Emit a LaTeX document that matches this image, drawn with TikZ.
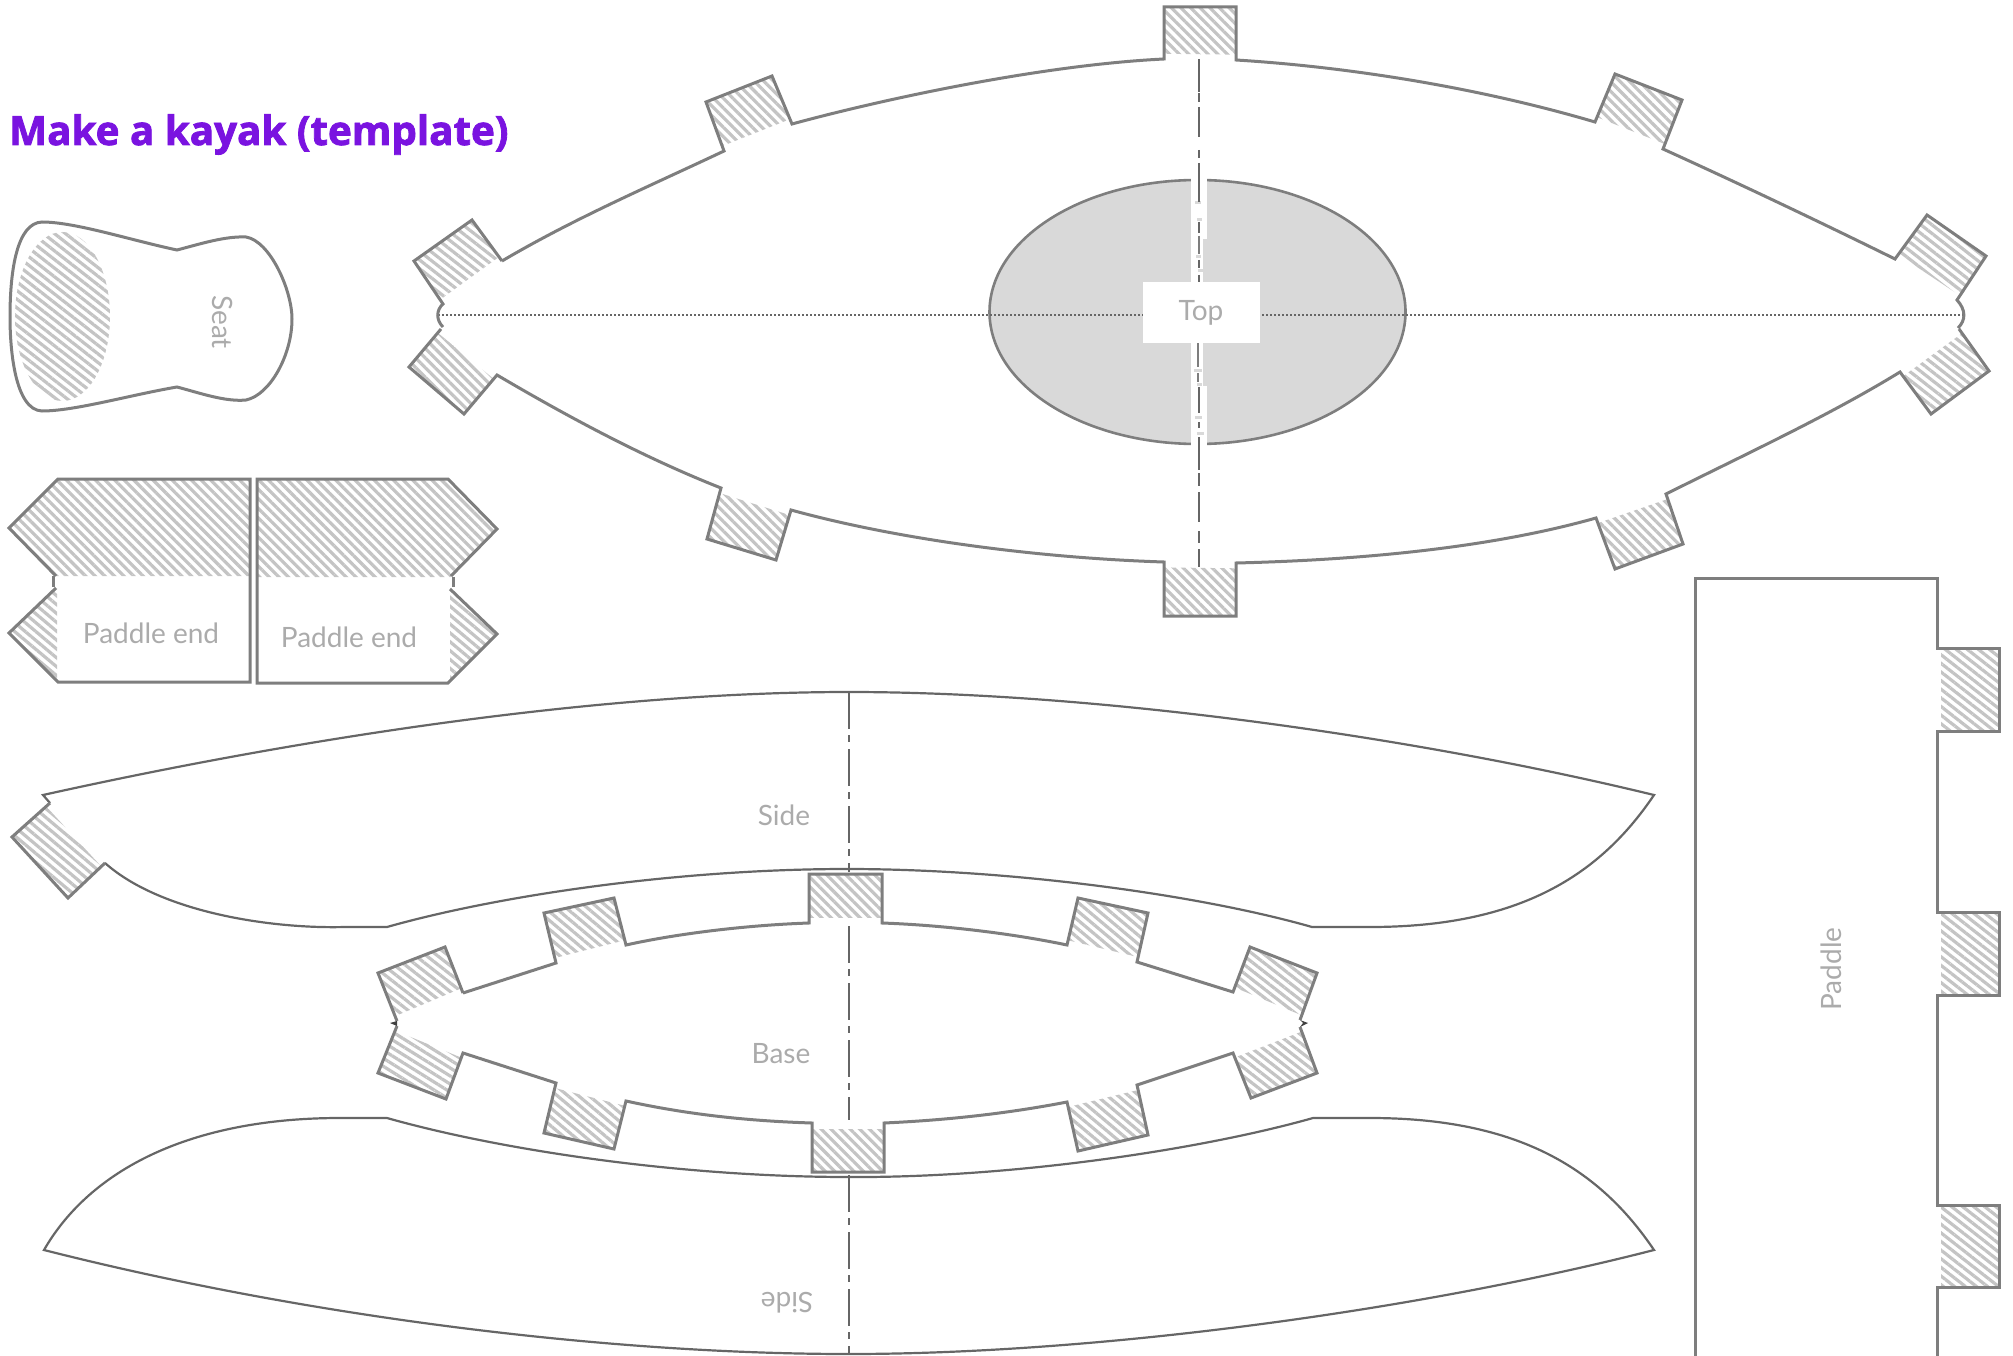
\documentclass[tikz,border=0pt]{standalone}
\usepackage{fontspec}
\usetikzlibrary{patterns.meta,calc}
\newfontfamily\titlefont[BoldFeatures={FakeBold=2}]{Open Sans}
\newfontfamily\labelfont{Lato}
\definecolor{edge}{HTML}{7E7E7E}
\definecolor{thinedge}{HTML}{666666}
\definecolor{hatchc}{HTML}{C4C4C4}
\definecolor{lab}{HTML}{ABABAB}
\definecolor{purp}{HTML}{7A13E0}
\definecolor{hole}{HTML}{D9D9D9}
\tikzset{
  outline/.style={draw=edge,line width=3pt,line join=miter},
  thinline/.style={draw=thinedge,line width=2.2pt},
  centre/.style={draw=thinedge,line width=2.5pt,dash pattern=on 37pt off 6pt on 7pt off 7pt},
  lbl/.style={text=lab,font=\labelfont\fontsize{28}{30}\selectfont,inner sep=0pt},
}
\newcommand{\hatched}[2]{\path[pattern={Lines[angle=#1,distance=6.8pt,line width=3.2pt]},pattern color=hatchc] #2;}
% tab: a = join, b, c = outer corners, d = join, e = angle
\newcommand{\tabh}[5]{\hatched{#5}{($(#1)!.1!(#2)$) -- (#2) -- (#3) -- ($(#4)!.1!(#3)$) -- cycle}}
\begin{document}
\begin{tikzpicture}[x=1pt,y=-1pt]
\useasboundingbox (0,0) rectangle (2013,1356);
% Title
\node[anchor=base west,inner sep=0pt,text=purp,font=\titlefont\bfseries\fontsize{40.3}{46}\selectfont] (title) at (9,145) {Make a kayak (template)};
% Seat
\hatched{-38}{(62.5,316.5) ellipse [x radius=47.5,y radius=84.5]}
\draw[outline] (42,222) .. controls (75,222) and (130,240) .. (177,250)
  .. controls (200,244) and (225,236) .. (246,237)
  .. controls (270,241) and (292,290) .. (292,319)
  .. controls (292,355) and (270,395) .. (246,400)
  .. controls (225,402) and (200,393) .. (177,387)
  .. controls (130,395) and (75,411) .. (42,411)
  .. controls (15,410) and (10,350) .. (10,317)
  .. controls (10,270) and (17,223) .. (42,222) -- cycle;
\node[lbl,rotate=-90] (seat) at (223,322) {Seat};
% Paddle ends
\hatched{-45}{(58,479) -- (250,479) -- (250,576) -- (56,576) -- (9,528) -- cycle}
\hatched{-40}{(57,588) -- (9,633) -- (57,682) -- cycle}
\draw[outline] (56,576) -- (9,528) -- (58,479) -- (250,479) -- (250,682) -- (58,682) -- (9,633) -- (56,588);
\draw[outline] (53,576) -- (53,587);
\node[lbl] (pe1) at (151,633) {Paddle end};
\hatched{-45}{(257,479) -- (448,479) -- (497,529) -- (451,577) -- (257,577) -- cycle}
\hatched{-40}{(450,589) -- (497,634) -- (450,680) -- cycle}
\draw[outline] (451,576) -- (497,529) -- (448,479) -- (257,479) -- (257,683) -- (448,683) -- (497,634) -- (450,589);
\draw[outline] (453,577) -- (453,587);
\node[lbl] (pe2) at (349,637) {Paddle end};
% Top hull: hatch
\tabh{502,261}{472,220}{414,261}{443,304}{-38}
\tabh{497,375}{464,414}{409,367}{441,329}{-45}
\tabh{792,124}{772,76}{706,102}{724,151}{-45}
\tabh{791,510}{776,560}{707,539}{721,488}{-45}
\tabh{1164,59}{1164,7}{1236,7}{1236,60}{-45}
\tabh{1164,562}{1164,616}{1236,616}{1236,563}{-45}
\tabh{1595,122}{1615,74}{1682,100}{1663,149}{-45}
\tabh{1596,518}{1615,569}{1683,544}{1666,494}{-45}
\tabh{1895,259}{1927,215}{1986,256}{1957,300}{-38}
\tabh{1900,372}{1931,414}{1989,371}{1959,329}{-38}
% Top hull: hole
\draw[outline,line width=2.6pt,fill=hole] (1197.5,312) ellipse [x radius=208,y radius=132];
% Top hull: dotted axis
\draw[thinedge,line width=2pt,dash pattern=on 2pt off 2pt] (438,315) -- (1963,315);
% White strip and label box on the hole
\fill[white] (1191,176) rectangle (1207,239);
\fill[white] (1191,239) rectangle (1203,282);
\fill[white] (1191,343) rectangle (1203,386);
\fill[white] (1191,386) rectangle (1207,450);
\foreach \xa/\xb/\yy in {1195/1201/203,1197/1202/220,1196/1201/257,1198/1203/271,1194/1202/370,1197/1202/384,1195/1202/417,1197/1204/433}
  \fill[hole] (\xa,\yy-1.5) rectangle (\xb,\yy+1.5);
% Top hull: centre line
\draw[thinedge,line width=2.5pt] (1199,59) -- (1199,92) (1199,93) -- (1199,102) (1199,107) -- (1199,137) (1199,150) -- (1199,158) (1199,163) -- (1199,202)
  (1199,222) -- (1199,233) (1199,260) -- (1199,268) (1199,275) -- (1199,282)
  (1199,387) -- (1199,413) (1199,422) -- (1199,428) (1199,437) -- (1199,470) (1199,473) -- (1199,486) (1199,492) -- (1199,522) (1199,531) -- (1199,543) (1199,549) -- (1199,567);
\draw[edge,line width=2.5pt] (1199,236) -- (1199,254) (1198,343) -- (1198,367) (1198,373) -- (1198,382);
\fill[white] (1143,282) rectangle (1260,343);
\node[lbl] (top) at (1201,313) {Top};
% Top hull: outline
\draw[outline] (502,261) -- (472,220) -- (414,261) -- (443,304)
  .. controls (436,310) and (436,320) .. (443,327) (441,329) -- (409,367) -- (464,414) -- (497,375)
  .. controls (570,418) and (645,458) .. (721,488) -- (707,539) -- (776,560) -- (791,510)
  .. controls (900,540) and (1040,558) .. (1164,562) -- (1164,616) -- (1236,616) -- (1236,563)
  .. controls (1360,560) and (1490,548) .. (1596,518) -- (1615,569) -- (1683,544) -- (1666,494)
  .. controls (1750,452) and (1830,415) .. (1900,372) -- (1931,414) -- (1989,371) -- (1959,329)
  (1958,328) .. controls (1966,320) and (1966,310) .. (1957,300) -- (1986,256) -- (1927,215) -- (1895,259)
  .. controls (1820,222) and (1740,184) .. (1663,149) -- (1682,100) -- (1615,74) -- (1595,122)
  .. controls (1480,88) and (1350,67) .. (1236,60) -- (1236,7) -- (1164,7) -- (1164,59)
  .. controls (1040,65) and (880,100) .. (792,124) -- (772,76) -- (706,102) -- (724,151)
  .. controls (650,186) and (575,218) .. (502,261);
% Side 1
\tabh{105,863}{68,898}{12,837}{50,803}{-40}
\draw[thinline] (50,803) -- (43,795) .. controls (300,738) and (600,692) .. (849,692)
  .. controls (1100,692) and (1420,738) .. (1654,795)
  .. controls (1600,875) and (1520,927) .. (1370,927) -- (1312,927)
  .. controls (1200,895) and (1012,869) .. (847,869)
  .. controls (680,869) and (500,895) .. (387,927) -- (345,927)
  .. controls (270,929) and (160,912) .. (105,863);
\draw[outline] (105,863) -- (68,898) -- (12,837) -- (50,803);
\draw[centre] (849,692) -- (849,872);
\node[lbl] (side1) at (784,815) {Side};
% Base
\tabh{463,993}{445,947}{378,973}{397,1021}{-38}
\tabh{463,1053}{446,1099}{378,1073}{397,1026}{-32}
\tabh{626,945}{614,898}{544,913}{556,963}{-40}
\tabh{626,1101}{614,1149}{544,1133}{556,1083}{-40}
\hatched{-45}{(809,874) -- (882,874) -- (882,917) -- (809,917) -- cycle}
\hatched{-45}{(812,1129) -- (884,1129) -- (884,1172) -- (812,1172) -- cycle}
\tabh{1067,945}{1078,898}{1148,913}{1137,962}{-40}
\tabh{1067,1102}{1078,1151}{1148,1135}{1137,1085}{-40}
\tabh{1233,992}{1250,947}{1317,973}{1300,1020}{-38}
\tabh{1233,1053}{1251,1098}{1317,1073}{1300,1027}{-38}
\draw[centre] (849,926) -- (849,1120);
\draw[outline] (463,993) -- (445,947) -- (378,973) -- (397,1021);
\draw[outline] (397,1026) -- (378,1073) -- (446,1099) -- (463,1053) -- (556,1083) -- (544,1133) -- (614,1149) -- (626,1101)
  .. controls (690,1115) and (750,1121) .. (812,1123) -- (812,1172) -- (884,1172) -- (884,1123)
  .. controls (950,1120) and (1010,1113) .. (1067,1102) -- (1078,1151) -- (1148,1135) -- (1137,1085) -- (1233,1053) -- (1251,1098) -- (1317,1073) -- (1300,1027);
\draw[outline] (1300,1020) -- (1317,973) -- (1250,947) -- (1233,992) -- (1137,962) -- (1148,913) -- (1078,898) -- (1067,945)
  .. controls (1010,933) and (940,925) .. (882,923) -- (882,874) -- (809,874) -- (809,923)
  .. controls (750,925) and (680,933) .. (626,945) -- (614,898) -- (544,913) -- (556,963) -- (463,993);
\fill[black!75] (390,1023) -- (397,1021) -- (397,1026) -- cycle;
\fill[black!75] (1308,1023) -- (1300,1020) -- (1303,1023) -- (1300,1027) -- cycle;
\node[lbl] (base) at (781,1054) {Base};
% Side 2
\draw[thinline] (44,1250) .. controls (90,1170) and (190,1118) .. (340,1118) -- (387,1118)
  .. controls (500,1150) and (680,1177) .. (849,1177)
  .. controls (1010,1178) and (1200,1150) .. (1313,1118) -- (1370,1118)
  .. controls (1520,1118) and (1600,1170) .. (1654,1250)
  .. controls (1420,1310) and (1100,1354) .. (849,1354)
  .. controls (600,1354) and (300,1315) .. (44,1250) -- cycle;
\draw[centre] (849,1175) -- (849,1355);
\node[lbl,rotate=180] (side2) at (787,1303) {Side};
% Paddle
\hatched{-38}{(1941,648) rectangle (1999,731)}
\hatched{-38}{(1941,912) rectangle (1999,995)}
\hatched{-38}{(1941,1205) rectangle (1999,1287)}
\draw[outline] (1695,1360) -- (1695,578) -- (1937,578) -- (1937,648) -- (1999,648) -- (1999,731) -- (1937,731) -- (1937,912) -- (1999,912) -- (1999,995) -- (1937,995) -- (1937,1205) -- (1999,1205) -- (1999,1287) -- (1937,1287) -- (1937,1360);
\node[lbl,rotate=90] (paddle) at (1831,969) {Paddle};
\end{tikzpicture}
\end{document}
